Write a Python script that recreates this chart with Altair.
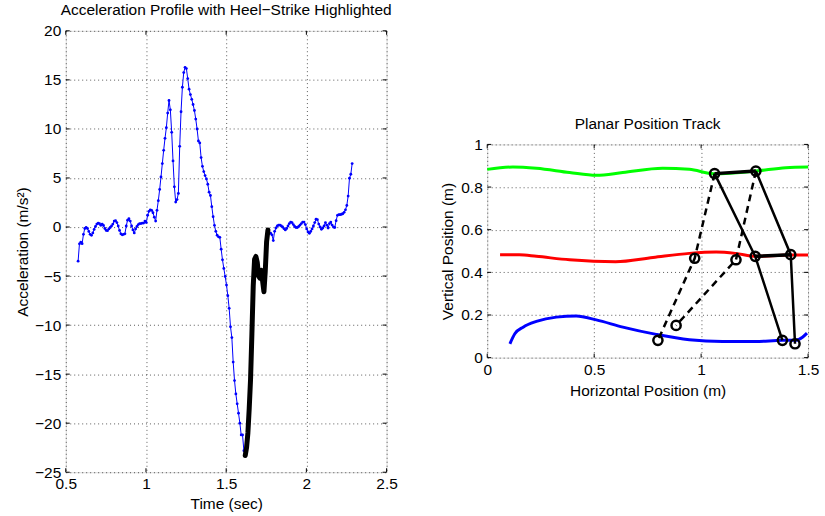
import altair as alt
import pandas as pd

# ---------------- Left panel data ----------------
t_start = 0.577          # first sample time (s)
sample_rate = 120.0      # Hz
accel = [
    -3.48, -1.72, -1.55, -1.70, -0.75, -0.15, -0.05, -0.15, -0.45, -0.75,
    -0.85, -0.60, -0.25, 0.05, 0.30, 0.38, 0.35, 0.17, 0.30, 0.15,
    -0.15, -0.35, -0.37, -0.20, -0.05, 0.10, 0.30, 0.60, 0.65, 0.45,
    0.10, -0.35, -0.70, -0.80, -0.75, -0.70, 0.10, 0.70, 0.85, 0.60,
    0.10, -0.30, -0.60, -0.20, 0.05, 0.25, 0.35, 0.35, 0.40, 0.40,
    0.60, 0.45, 1.20, 1.60, 1.75, 1.70, 1.45, 1.00, 0.60, 1.70,
    2.68, 3.83, 5.10, 6.47, 7.82, 9.04, 10.12, 11.61, 12.90, 11.95,
    9.65, 6.74, 4.10, 2.54, 2.80, 3.42, 8.22, 11.75, 14.25, 15.74,
    16.28, 16.15, 15.13, 14.05, 13.50, 13.02, 12.49, 11.88, 11.00, 9.99,
    8.77, 8.57, 7.08, 6.19, 5.65, 5.24, 4.90, 4.36, 3.55, 3.21,
    2.07, 1.05, 0.17, -0.44, -0.84, -1.00, -1.05, -2.26, -3.35, -4.22,
    -5.04, -5.92, -7.00, -8.29, -10.18, -11.27, -13.77, -15.66, -17.02, -18.03,
    -18.98, -20.00, -21.20, -21.20, -22.80, -23.30, -22.50, -21.00, -18.50, -15.50,
    -10.90, -6.00, -3.30, -3.00, -3.60, -5.00, -5.20, -4.40, -5.50, -6.60,
    -4.50, -1.50, -0.30, -0.64, -0.64, -0.80, -1.38, -0.44, -0.10, 0.10,
    0.20, 0.20, 0.10, 0.00, -0.17, -0.30, -0.15, 0.10, 0.35, 0.50,
    0.45, 0.25, 0.05, -0.05, -0.05, 0.05, 0.20, 0.35, 0.50, 0.50,
    0.25, -0.20, -0.50, -0.64, -0.45, -0.20, 0.10, 0.45, 0.80, 0.75,
    0.30, 0.00, -0.23, -0.10, 0.10, 0.45, 0.20, -0.10, 0.35, 0.50,
    0.20, 0.00, -0.05, 0.65, 1.19, 1.26, 1.26, 1.30, 1.35, 1.50,
    1.75, 2.20, 3.15, 4.97, 5.38, 6.47,
]
heel_strike_first = 125   # sample index where the heel-strike segment starts
heel_strike_last = 142    # sample index where it ends

x_ticks_left = [0.5, 1, 1.5, 2, 2.5]
y_ticks_left = [20, 15, 10, 5, 0, -5, -10, -15, -20, -25]

# ---------------- Right panel data ----------------
green_x = [0.0, 0.12, 0.23, 0.385, 0.51, 0.634, 0.82, 0.945, 1.06, 1.256, 1.396, 1.5]
green_y = [0.883, 0.894, 0.888, 0.868, 0.855, 0.868, 0.888, 0.883, 0.862, 0.875, 0.891, 0.894]

red_x = [0.06, 0.15, 0.23, 0.385, 0.60, 0.775, 0.945, 1.07, 1.16, 1.256, 1.41, 1.5]
red_y = [0.482, 0.482, 0.475, 0.459, 0.450, 0.470, 0.489, 0.495, 0.489, 0.475, 0.481, 0.481]

blue_x = [0.106, 0.129, 0.168, 0.23, 0.323, 0.416, 0.51, 0.634, 0.79, 0.945, 1.10, 1.256, 1.38, 1.44, 1.474, 1.495]
blue_y = [0.065, 0.112, 0.143, 0.170, 0.190, 0.195, 0.177, 0.143, 0.109, 0.084, 0.076, 0.076, 0.081, 0.081, 0.096, 0.115]

# joints of the two leg configurations
joint_names = ["hip1", "hip2", "knee1", "knee2", "ankle1", "ankle2", "kneeA", "kneeB", "ankleA", "ankleB"]
joint_x = [1.063, 1.256, 1.253, 1.419, 1.380, 1.439, 0.970, 1.163, 0.798, 0.883]
joint_y = [0.863, 0.875, 0.475, 0.483, 0.081, 0.065, 0.466, 0.459, 0.081, 0.151]

solid_legs = [["hip1", "knee1", "ankle1"], ["hip2", "knee2", "ankle2"]]
solid_bars = [["hip1", "hip2"], ["knee1", "knee2"]]
dashed_legs = [["hip1", "kneeA", "ankleA"], ["hip2", "kneeB", "ankleB"]]

x_ticks_right = [0, 0.5, 1, 1.5]
y_ticks_right = [0, 0.2, 0.4, 0.6, 0.8, 1]

FONT = "Liberation Sans"
FS = 15.5
TICK = 4
LW, LH = 322, 443
RW, RH = 322, 214

# ---------------- Build tables ----------------
times = [t_start + i / sample_rate for i in range(len(accel))]
acc_df = pd.DataFrame({"t": times, "a": accel, "i": list(range(len(accel)))})
hs_df = acc_df[(acc_df.i >= heel_strike_first) & (acc_df.i <= heel_strike_last)]

jx = dict(zip(joint_names, joint_x))
jy = dict(zip(joint_names, joint_y))


def paths_df(paths, prefix):
    rows = []
    for k, p in enumerate(paths):
        for o, n in enumerate(p):
            rows.append({"x": jx[n], "y": jy[n], "g": f"{prefix}{k}", "o": o})
    return pd.DataFrame(rows)


legs_df = paths_df(solid_legs, "s")
bars_df = paths_df(solid_bars, "b")
dash_df = paths_df(dashed_legs, "d")
joints_df = pd.DataFrame({"x": joint_x, "y": joint_y})

curves_df = pd.concat([
    pd.DataFrame({"x": green_x, "y": green_y, "c": "green"}),
    pd.DataFrame({"x": red_x, "y": red_y, "c": "red"}),
    pd.DataFrame({"x": blue_x, "y": blue_y, "c": "blue"}),
])

grid_axis = dict(
    grid=True, gridColor="#000000", gridDash=[1, 3], gridOpacity=0.65, gridWidth=1,
    domain=False, ticks=False, labelFlush=False, labelFont=FONT, labelFontSize=FS,
    labelColor="black", titleFont=FONT, titleFontSize=FS, titleColor="black",
    titleFontWeight="normal",
)


def inner_ticks(xfield, yfield, xvals, yvals, w, h):
    """MATLAB-style inward ticks on all four sides, placed through the scales."""
    xdf = pd.DataFrame({xfield: xvals})
    ydf = pd.DataFrame({yfield: yvals})
    base = dict(color="black", strokeWidth=1)
    return [
        alt.Chart(ydf).mark_rule(**base).encode(y=f"{yfield}:Q", x=alt.value(0), x2=alt.value(TICK)),
        alt.Chart(ydf).mark_rule(**base).encode(y=f"{yfield}:Q", x=alt.value(w - TICK), x2=alt.value(w)),
        alt.Chart(xdf).mark_rule(**base).encode(x=f"{xfield}:Q", y=alt.value(h), y2=alt.value(h - TICK)),
        alt.Chart(xdf).mark_rule(**base).encode(x=f"{xfield}:Q", y=alt.value(0), y2=alt.value(TICK)),
    ]


# ---------------- Left chart ----------------
xl = alt.X("t:Q", scale=alt.Scale(domain=[0.5, 2.5], nice=False),
           axis=alt.Axis(values=x_ticks_left, format="~g", title="Time (sec)",
                         labelPadding=4, titlePadding=5, **grid_axis))
yl = alt.Y("a:Q", scale=alt.Scale(domain=[-25, 20], nice=False),
           axis=alt.Axis(values=y_ticks_left, format="~g", title="Acceleration (m/s²)",
                         labelPadding=5, titlePadding=4, **grid_axis))

blue_line = alt.Chart(acc_df).mark_line(color="#0000FF", strokeWidth=1).encode(x=xl, y=yl)
blue_pts = alt.Chart(acc_df).mark_circle(color="#0000FF", size=8, opacity=1).encode(x="t:Q", y="a:Q")
black_line = alt.Chart(hs_df).mark_line(color="black", strokeWidth=5, strokeCap="round",
                                        strokeJoin="round").encode(x="t:Q", y="a:Q")

left = alt.layer(blue_line, blue_pts, black_line,
                 *inner_ticks("t", "a", x_ticks_left, y_ticks_left, LW, LH)).properties(
    width=LW, height=LH,
    title=alt.TitleParams("Acceleration Profile with Heel−Strike Highlighted", font=FONT,
                          fontSize=FS, fontWeight="normal", color="black", offset=5),
)

# ---------------- Right chart ----------------
xr = alt.X("x:Q", scale=alt.Scale(domain=[0, 1.5], nice=False),
           axis=alt.Axis(values=x_ticks_right, format="~g", title="Horizontal Position (m)",
                         labelPadding=5, titlePadding=5, **grid_axis))
yr = alt.Y("y:Q", scale=alt.Scale(domain=[0, 1], nice=False),
           axis=alt.Axis(values=y_ticks_right, format="~g", title="Vertical Position (m)",
                         labelPadding=5, titlePadding=5, **grid_axis))

curves = alt.Chart(curves_df).mark_line(strokeWidth=3, interpolate="monotone").encode(
    x=xr, y=yr, detail="c:N",
    color=alt.Color("c:N", scale=alt.Scale(domain=["green", "red", "blue"],
                                           range=["#00FF00", "#FF0000", "#0000FF"]), legend=None),
)
legs = alt.Chart(legs_df).mark_line(color="black", strokeWidth=2.5).encode(
    x="x:Q", y="y:Q", detail="g:N", order="o:Q")
bars = alt.Chart(bars_df).mark_line(color="black", strokeWidth=3.5).encode(
    x="x:Q", y="y:Q", detail="g:N", order="o:Q")
dashes = alt.Chart(dash_df).mark_line(color="black", strokeWidth=2.5, strokeDash=[7, 5]).encode(
    x="x:Q", y="y:Q", detail="g:N", order="o:Q")
joints = alt.Chart(joints_df).mark_point(shape="circle", filled=False, size=85, strokeWidth=2.5,
                                         color="black", opacity=1).encode(x="x:Q", y="y:Q")

right = alt.layer(curves, dashes, legs, bars, joints,
                  *inner_ticks("x", "y", x_ticks_right, y_ticks_right, RW, RH)).properties(
    width=RW, height=RH,
    title=alt.TitleParams("Planar Position Track", font=FONT, fontSize=FS,
                          fontWeight="normal", color="black", offset=5),
)

spacer = alt.Chart(pd.DataFrame({"z": [0]})).mark_point(opacity=0).encode(
    x=alt.X("z:Q", axis=None), y=alt.Y("z:Q", axis=None)
).properties(width=RW, height=100, view=alt.ViewBackground(strokeOpacity=0))

right_col = alt.vconcat(spacer, right, spacing=14, bounds="flush")

chart = alt.hconcat(left, right_col, spacing=101, bounds="flush").properties(
    padding={"left": 15, "top": 2, "right": 5, "bottom": 2}
).configure_view(stroke="black", strokeWidth=1.2).configure(background="white")

chart.save("out.html", embed_options={"renderer": "svg", "actions": False})
